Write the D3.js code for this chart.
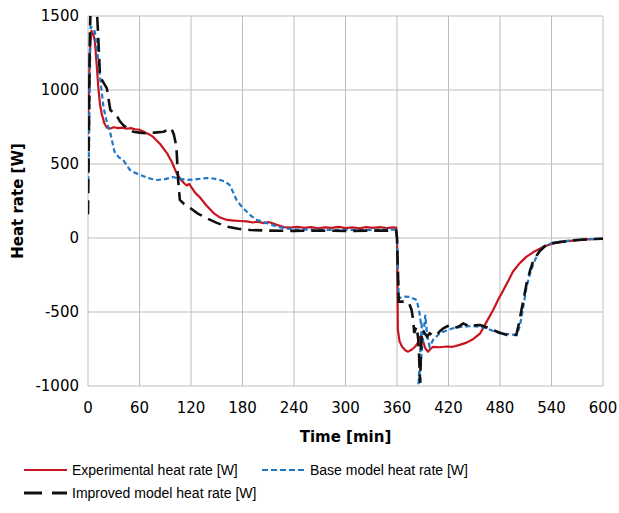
<!DOCTYPE html>
<html>
<head>
<meta charset="utf-8">
<script src="https://cdn.jsdelivr.net/npm/d3@7"></script>
<style>
  body { margin: 0; background: #fff; }
  text { fill: #000; }
</style>
</head>
<body>
<div id="chart"></div>
<script>
// time [min], heat rate [W]
const experimental = [
  [0, 700], [1, 1000], [2, 1250], [4, 1400], [6, 1380], [8, 1330], [10, 1180], [12, 1020],
  [14, 900], [16, 840], [19, 775], [22, 745], [26, 740], [30, 748], [35, 742], [40, 746],
  [45, 738], [50, 742], [55, 735], [60, 732], [66, 715], [72, 698], [76, 683], [84, 635],
  [92, 574], [98, 510], [103, 440], [108, 395], [112, 370], [115, 355], [118, 365], [121, 338],
  [125, 305], [130, 277], [138, 220], [146, 170], [154, 138], [162, 122], [170, 118],
  [177, 115], [185, 112], [192, 105], [197, 110], [205, 100], [210, 108], [216, 98],
  [222, 85], [228, 74], [236, 70], [244, 76], [252, 68], [260, 74], [268, 66], [276, 72],
  [284, 68], [292, 75], [300, 67], [308, 72], [316, 66], [324, 74], [332, 68], [340, 73],
  [348, 67], [356, 72], [359, 70], [360, 20], [361, -620], [363, -700], [366, -735],
  [370, -760], [373, -768], [377, -755], [381, -735], [384, -710], [387, -667], [390, -690],
  [393, -745], [396, -768], [399, -750], [402, -735], [410, -738], [418, -733], [425, -735],
  [433, -722], [441, -707], [449, -682], [457, -644], [464, -570], [472, -486], [478, -415],
  [484, -351], [490, -285], [495, -228], [503, -170], [511, -126], [519, -95], [527, -70],
  [535, -50], [542, -36], [553, -25], [565, -18], [580, -10], [600, -5]
];

const baseModel = [
  [0, 330], [1, 550], [2, 1000], [3, 1430], [5, 1420], [8, 1394], [11, 1250], [14, 1090],
  [18, 885], [22, 780], [26, 709], [31, 581], [36, 545], [41, 527], [49, 459], [55, 440],
  [61, 426], [70, 405], [80, 392], [90, 398], [99, 412], [107, 400], [115, 392], [125, 396],
  [138, 405], [146, 402], [154, 392], [160, 380], [165, 358], [169, 310], [173, 257],
  [178, 220], [183, 189], [190, 150], [197, 122], [208, 101], [218, 82], [228, 67],
  [240, 58], [260, 56], [280, 54], [300, 55], [320, 53], [340, 56], [359, 56], [360, 0],
  [362, -407], [368, -396], [375, -398], [383, -419], [386, -500], [388, -580], [389, -570],
  [385, -993], [390, -700], [393, -520], [395, -650], [398, -735], [402, -689], [410, -642],
  [418, -625], [426, -608], [437, -598], [449, -595], [457, -600], [464, -610], [472, -628],
  [480, -644], [490, -650], [499, -655], [503, -600], [507, -470], [511, -329], [515, -240],
  [519, -171], [524, -110], [530, -59], [540, -35], [550, -25], [565, -15], [580, -9], [600, -5]
];

const improvedModel = [
  [0, 160], [1, 700], [2, 1300], [3, 1560], [6, 1600], [10, 1580], [12, 1350], [14, 1090],
  [17, 1060], [22, 1011], [26, 865], [30, 845], [33, 831], [37, 790], [41, 763], [47, 735],
  [53, 718], [60, 712], [68, 707], [78, 712], [88, 718], [97, 741], [100, 700], [103, 617],
  [105, 392], [107, 257], [112, 230], [119, 203], [128, 165], [138, 135], [150, 102],
  [162, 77], [175, 62], [189, 54], [210, 50], [240, 48], [270, 50], [300, 47], [330, 50],
  [359, 50], [360, 0], [362, -430], [367, -430], [371, -430], [374, -440], [377, -486],
  [379, -560], [380, -642], [382, -610], [383, -599], [385, -700], [387, -980], [388, -760],
  [389, -621], [392, -640], [395, -667], [398, -644], [402, -660], [406, -655], [410, -630],
  [414, -610], [418, -598], [422, -588], [426, -600], [430, -604], [434, -590], [437, -577],
  [441, -588], [445, -599], [451, -590], [457, -588], [465, -605], [472, -622], [480, -640],
  [488, -655], [494, -655], [499, -655], [502, -580], [505, -486], [508, -400], [511, -306],
  [515, -220], [519, -149], [526, -90], [534, -47], [543, -33], [553, -25], [570, -14],
  [585, -8], [600, -5]
];

const xTicks = [0, 60, 120, 180, 240, 300, 360, 420, 480, 540, 600];
const yTicks = [-1000, -500, 0, 500, 1000, 1500];

const seriesNames = ["Experimental heat rate [W]", "Base model heat rate [W]", "Improved model heat rate [W]"];
const seriesColors = ["#c8141e", "#1e78c8", "#111111"];

const W = 619, H = 513;
const margin = { left: 88, right: 16, top: 16, bottom: 127 };

const svg = d3.select("#chart").append("svg")
  .attr("width", W)
  .attr("height", H);

const x = d3.scaleLinear().domain([0, 600]).range([margin.left, W - margin.right]);
const y = d3.scaleLinear().domain([-1000, 1500]).range([H - margin.bottom, margin.top]);

// grid
svg.append("g").selectAll("line.vg")
  .data(xTicks).join("line")
  .attr("x1", d => x(d)).attr("x2", d => x(d))
  .attr("y1", y(1500)).attr("y2", y(-1000))
  .attr("stroke", "#bdbdbd").attr("stroke-width", 1);

svg.append("g").selectAll("line.hg")
  .data(yTicks).join("line")
  .attr("x1", x(0)).attr("x2", x(600))
  .attr("y1", d => y(d)).attr("y2", d => y(d))
  .attr("stroke", "#bdbdbd").attr("stroke-width", 1);

// tick labels
svg.append("g").selectAll("text")
  .data(yTicks).join("text")
  .attr("x", x(0) - 9)
  .attr("y", d => y(d))
  .attr("dy", "0.36em")
  .attr("text-anchor", "end")
  .style("font", "15px 'DejaVu Sans'")
  .text(d => d);

svg.append("g").selectAll("text")
  .data(xTicks).join("text")
  .attr("x", d => x(d))
  .attr("y", y(-1000) + 22)
  .attr("dy", "0.36em")
  .attr("text-anchor", "middle")
  .style("font", "15px 'DejaVu Sans'")
  .text(d => d);

// axis titles
svg.append("text")
  .attr("x", (x(0) + x(600)) / 2)
  .attr("y", 442)
  .attr("text-anchor", "middle")
  .style("font", "bold 15px 'DejaVu Sans'")
  .text("Time [min]");

svg.append("text")
  .attr("transform", `translate(23,${(y(1500) + y(-1000)) / 2}) rotate(-90)`)
  .attr("text-anchor", "middle")
  .style("font", "bold 15px 'DejaVu Sans'")
  .text("Heat rate [W]");

// clip
svg.append("clipPath").attr("id", "plotclip")
  .append("rect")
  .attr("x", x(0)).attr("y", y(1500))
  .attr("width", x(600) - x(0)).attr("height", y(-1000) - y(1500));

const line = d3.line().x(d => x(d[0])).y(d => y(d[1]));

const plot = svg.append("g").attr("clip-path", "url(#plotclip)");

plot.append("path").datum(experimental)
  .attr("d", line).attr("fill", "none")
  .attr("stroke", seriesColors[0]).attr("stroke-width", 2.2)
  .attr("stroke-linejoin", "round");

plot.append("path").datum(baseModel)
  .attr("d", line).attr("fill", "none")
  .attr("stroke", seriesColors[1]).attr("stroke-width", 2.2)
  .attr("stroke-dasharray", "5,3");

plot.append("path").datum(improvedModel)
  .attr("d", line).attr("fill", "none")
  .attr("stroke", seriesColors[2]).attr("stroke-width", 2.6)
  .attr("stroke-dasharray", "14,7");

// legend
const legendItems = [
  { name: seriesNames[0], color: seriesColors[0], dash: null, w: 2.2, x: 24, y: 470 },
  { name: seriesNames[1], color: seriesColors[1], dash: "6,3", w: 2.2, x: 262, y: 470 },
  { name: seriesNames[2], color: seriesColors[2], dash: "18,10", w: 2.8, x: 24, y: 493 }
];

const lg = svg.append("g").selectAll("g").data(legendItems).join("g");
lg.append("line")
  .attr("x1", d => d.x).attr("x2", d => d.x + 43)
  .attr("y1", d => d.y).attr("y2", d => d.y)
  .attr("stroke", d => d.color).attr("stroke-width", d => d.w)
  .attr("stroke-dasharray", d => d.dash);
lg.append("text")
  .attr("x", d => d.x + 48)
  .attr("y", d => d.y)
  .attr("dy", "0.35em")
  .style("font", "14px 'Liberation Sans'")
  .text(d => d.name);
</script>
</body>
</html>
